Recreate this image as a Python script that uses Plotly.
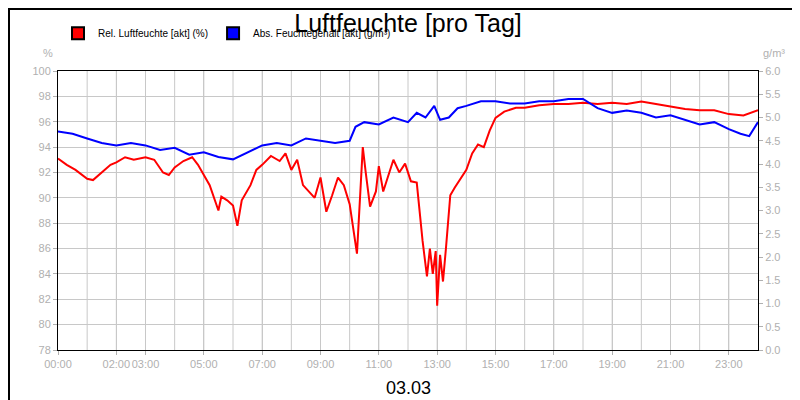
import plotly.graph_objects as go

# time in hours since midnight
rel_t = [0, 0.3, 0.6, 1.0, 1.2, 1.5, 1.8, 2.0, 2.3, 2.6, 3.0, 3.3, 3.6, 3.8, 4.0, 4.3, 4.6, 4.8, 5.0,
         5.2, 5.5, 5.6, 5.8, 6.0, 6.15, 6.3, 6.6, 6.8, 7.0, 7.3, 7.6, 7.8, 8.0, 8.2, 8.4, 8.6, 8.8,
         9.0, 9.2, 9.4, 9.6, 9.8, 10.0, 10.25, 10.45, 10.55, 10.7, 10.9, 11.0, 11.15, 11.3, 11.5,
         11.7, 11.9, 12.1, 12.3, 12.5, 12.65, 12.75, 12.85, 12.95, 13.0, 13.1, 13.2, 13.3, 13.45,
         13.6, 13.8, 14.0, 14.2, 14.4, 14.6, 14.8, 15.0, 15.3, 15.7, 16.0, 16.5, 17.0, 17.5, 18.0,
         18.5, 19.0, 19.5, 20.0, 20.5, 21.0, 21.5, 22.0, 22.5, 23.0, 23.5, 24.0]
rel_v = [93.1, 92.6, 92.2, 91.5, 91.4, 92.0, 92.6, 92.8, 93.2, 93.0, 93.2, 93.0, 92.0, 91.8, 92.4, 92.9, 93.2, 92.6, 91.8,
         91.0, 89.0, 90.1, 89.8, 89.4, 87.8, 89.8, 91.0, 92.2, 92.6, 93.3, 92.9, 93.5, 92.2, 93.0, 91.0, 90.5, 90.0,
         91.6, 88.9, 90.2, 91.6, 91.0, 89.5, 85.6, 94.0, 92.0, 89.3, 90.5, 92.5, 90.5, 91.5, 93.0,
         92.0, 92.7, 91.3, 91.2, 86.6, 83.8, 86.0, 84.0, 85.8, 81.5, 85.5, 83.4, 86.0, 90.2,
         90.8, 91.5, 92.2, 93.5, 94.2, 94.0, 95.3, 96.3, 96.8, 97.1, 97.1, 97.3, 97.4, 97.4, 97.5,
         97.4, 97.5, 97.4, 97.6, 97.4, 97.2, 97.0, 96.9, 96.9, 96.6, 96.5, 96.9]

abs_t = [0, 0.5, 1.0, 1.5, 2.0, 2.5, 3.0, 3.5, 4.0, 4.5, 5.0, 5.5, 6.0, 6.5, 7.0, 7.5, 8.0, 8.5, 9.0,
         9.5, 10.0, 10.2, 10.5, 11.0, 11.5, 12.0, 12.3, 12.6, 12.9, 13.1, 13.4, 13.7, 14.0, 14.5, 15.0,
         15.5, 16.0, 16.5, 17.0, 17.5, 18.0, 18.5, 19.0, 19.5, 20.0, 20.5, 21.0, 21.5, 22.0, 22.5,
         23.0, 23.4, 23.7, 24.0]
abs_v = [4.7, 4.65, 4.55, 4.45, 4.4, 4.45, 4.4, 4.3, 4.35, 4.2, 4.25, 4.15, 4.1, 4.25, 4.4, 4.45, 4.4, 4.55, 4.5,
         4.45, 4.5, 4.8, 4.9, 4.85, 5.0, 4.9, 5.1, 5.0, 5.25, 4.95, 5.0, 5.2, 5.25, 5.35, 5.35,
         5.3, 5.3, 5.35, 5.35, 5.4, 5.4, 5.2, 5.1, 5.15, 5.1, 5.0, 5.05, 4.95, 4.85, 4.9,
         4.75, 4.65, 4.6, 4.9]

tick_vals = [0, 2, 3, 5, 7, 9, 11, 13, 15, 17, 19, 21, 23]
tick_text = [f"{h:02d}:00" for h in tick_vals]

grey = "#b0b0b0"
gridc = "#c8c8c8"
fig = go.Figure()
fig.add_trace(go.Scatter(x=rel_t, y=rel_v, mode="lines", showlegend=False,
                         line=dict(color="#ff0000", width=2)))
fig.add_trace(go.Scatter(x=abs_t, y=abs_v, mode="lines", showlegend=False,
                         line=dict(color="#0000ff", width=2), yaxis="y2"))
# legend entries with square swatches
for name, col in [("Rel. Luftfeuchte [akt] (%)", "#ff0000"),
                  ("Abs. Feuchtegehalt [akt] (g/m³)", "#0000ff")]:
    fig.add_trace(go.Scatter(x=[None], y=[None], mode="markers", name=name,
                             marker=dict(symbol="square", size=9, color=col,
                                         line=dict(color="black", width=1))))

fig.update_layout(
    width=800, height=400,
    margin=dict(l=50, r=50, t=63, b=58, autoexpand=False),
    paper_bgcolor="white", plot_bgcolor="white",
    font=dict(family="Liberation Sans, Arial", size=11, color="black"),
    title=dict(text="Luftfeuchte [pro Tag]", x=0.5, y=0.985, yanchor="top",
               font=dict(size=25, color="black")),
    showlegend=True,
    legend=dict(orientation="h", x=0.0, y=1.135, xanchor="left", yanchor="middle",
                font=dict(size=10), bgcolor="rgba(0,0,0,0)", itemsizing="constant"),
    xaxis=dict(range=[0, 24], tickvals=tick_vals, ticktext=tick_text, tickangle=0,
               showgrid=True, gridcolor=gridc, automargin=False,
               ticks="outside", ticklen=4, tickcolor=grey,
               tickfont=dict(color=grey, size=11),
               showline=True, linecolor="black", linewidth=1, mirror=True, zeroline=False),
    yaxis=dict(range=[78, 100], dtick=2, showgrid=True, gridcolor=gridc, automargin=False,
               ticks="outside", ticklen=4, tickcolor=grey,
               tickfont=dict(color=grey, size=11),
               showline=True, linecolor="black", mirror=True, zeroline=False),
    yaxis2=dict(range=[0, 6], dtick=0.5, tickformat=".1f", overlaying="y", side="right",
                showgrid=False, ticks="outside", ticklen=4, tickcolor=grey, automargin=False,
                tickfont=dict(color=grey, size=11), zeroline=False),
)
# hourly vertical grid (labels only on some hours)
for h in range(1, 24):
    fig.add_vline(x=h, line=dict(color=gridc, width=1), layer="below")

fig.add_annotation(text="%", xref="paper", yref="paper", x=-0.005, y=1.035,
                   showarrow=False, font=dict(color=grey, size=11), xanchor="right", yanchor="bottom")
fig.add_annotation(text="g/m³", xref="paper", yref="paper", x=1.005, y=1.035,
                   showarrow=False, font=dict(color=grey, size=11), xanchor="left", yanchor="bottom")
fig.add_annotation(text="03.03", xref="paper", yref="paper", x=0.5, y=-0.136,
                   showarrow=False, font=dict(size=18, color="black"), yanchor="middle")
fig.add_shape(type="rect", xref="paper", yref="paper",
              x0=-49/700, x1=749/700, y0=-57/279, y1=(279+62)/279,
              line=dict(color="black", width=2))

fig.write_html("out.html")
